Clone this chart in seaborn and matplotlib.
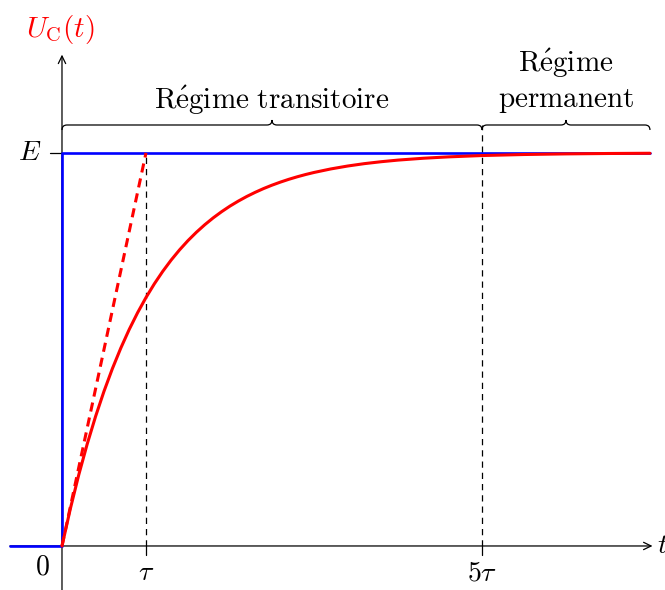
import numpy as np
import seaborn as sns
import matplotlib.pyplot as plt
from matplotlib.path import Path
from matplotlib.patches import PathPatch

# values (tau = 1, E = 1)
t_charge = [0, 0.1, 0.2, 0.3, 0.4, 0.5, 0.6, 0.7, 0.8, 0.9, 1.0, 1.1, 1.2, 1.3, 1.4, 1.5,
            1.6, 1.7, 1.8, 1.9, 2.0, 2.1, 2.2, 2.3, 2.4, 2.5, 2.6, 2.7, 2.8, 2.9, 3.0,
            3.2, 3.4, 3.6, 3.8, 4.0, 4.3, 4.6, 5.0, 5.5, 6.0, 6.5, 7.0]
u_charge = [0, 0.0952, 0.1813, 0.2592, 0.3297, 0.3935, 0.4512, 0.5034, 0.5507, 0.5934,
            0.6321, 0.6671, 0.6988, 0.7275, 0.7534, 0.7769, 0.7981, 0.8173, 0.8347, 0.8504,
            0.8647, 0.8775, 0.8892, 0.8997, 0.9093, 0.9179, 0.9257, 0.9328, 0.9392, 0.9450,
            0.9502, 0.9592, 0.9666, 0.9727, 0.9776, 0.9817, 0.9864, 0.9899, 0.9933, 0.9959,
            0.9975, 0.9985, 0.9991]
t_step = [-0.62, 0, 0, 7.0]
u_step = [0, 0, 1, 1]
t_tangent = [0, 1]
u_tangent = [0, 1]
tick_pos = [1, 5]
tick_labels = [r"$\tau$", r"$5\tau$"]
regimes = [(0, 5, [(1.112, r"$\mathrm{R\'egime\ transitoire}$")]),
           (5, 7, [(1.206, r"$\mathrm{R\'egime}$"), (1.117, r"$\mathrm{permanent}$")])]

sns.set_theme(style="white")
plt.rcParams["mathtext.fontset"] = "cm"
plt.rcParams["font.family"] = ["DejaVu Serif"]
plt.rcParams["text.color"] = "black"

fig = plt.figure(figsize=(6.65, 5.9), dpi=100)
ax = fig.add_axes([0, 0, 1, 1])
ax.set_xlim(-0.738, 7.179)
ax.set_ylim(-0.112, 1.389)
ax.axis("off")

px = 1 / 84.0   # one pixel in x data units
py = 1 / 393.0  # one pixel in y data units
fs = 20

# axes with arrows
arrow = dict(arrowstyle="->,head_length=0.45,head_width=0.22", lw=0.9, color="black",
             shrinkA=0, shrinkB=0)
ax.annotate("", xy=(7.03, 0), xytext=(-0.62, 0), arrowprops=arrow, zorder=1)
ax.annotate("", xy=(0, 1.25), xytext=(0, -0.12), arrowprops=arrow, zorder=1)

# ticks
ax.plot([-12 * px, 0], [1, 1], color="black", lw=0.9, zorder=1)
for x in tick_pos:
    ax.plot([x, x], [0, -9 * py], color="black", lw=0.9, zorder=1)

# dashed guides
ax.plot([1, 1], [0, 1], color="black", lw=0.9, ls=(0, (5, 4)), zorder=1)
ax.plot([5, 5], [0, 1.071], color="black", lw=0.9, ls=(0, (5, 4)), zorder=1)

# curves
sns.lineplot(x=t_step, y=u_step, color="#0000ff", lw=1.9, sort=False, estimator=None,
             ax=ax, zorder=3)
sns.lineplot(x=t_tangent, y=u_tangent, color="#ff0000", lw=2.2, linestyle=(0, (3, 2)),
             sort=False, estimator=None, ax=ax, zorder=4)
sns.lineplot(x=t_charge, y=u_charge, color="#ff0000", lw=2.2, sort=False, estimator=None,
             ax=ax, zorder=4, solid_joinstyle="round")


def brace(ax, x0, x1, y, rx, ry):
    xm = (x0 + x1) / 2
    verts = [(x0, y - ry), (x0, y), (x0 + rx, y),
             (xm - rx, y), (xm, y), (xm, y + ry),
             (xm, y), (xm + rx, y),
             (x1 - rx, y), (x1, y), (x1, y - ry)]
    codes = [Path.MOVETO, Path.CURVE3, Path.CURVE3,
             Path.LINETO, Path.CURVE3, Path.CURVE3,
             Path.CURVE3, Path.CURVE3,
             Path.LINETO, Path.CURVE3, Path.CURVE3]
    ax.add_patch(PathPatch(Path(verts, codes), fill=False, lw=0.9, color="black"))


y_brace = 1.071
for x0, x1, lines in regimes:
    brace(ax, x0, x1, y_brace, 5 * px, 5 * py)
    xm = (x0 + x1) / 2
    for yb, txt in lines:
        ax.text(xm, yb, txt, ha="center", va="baseline", fontsize=fs + 1)

# labels
for x, lab in zip(tick_pos, tick_labels):
    ax.text(x, -27 * py, lab, ha="center", va="center", fontsize=fs)
ax.text(-20 * px, -21 * py, r"$0$", ha="center", va="center", fontsize=fs)
ax.text(-32 * px, 1, r"$E$", ha="center", va="center", fontsize=fs)
ax.text(7.08, 0, r"$t$", ha="left", va="center", fontsize=fs)
ax.text(-2 * px, 1.313, r"$U_{\mathrm{C}}(t)$", ha="center", va="center", fontsize=fs + 1,
        color="#ff0000")

fig.savefig("out.png", dpi=100)
